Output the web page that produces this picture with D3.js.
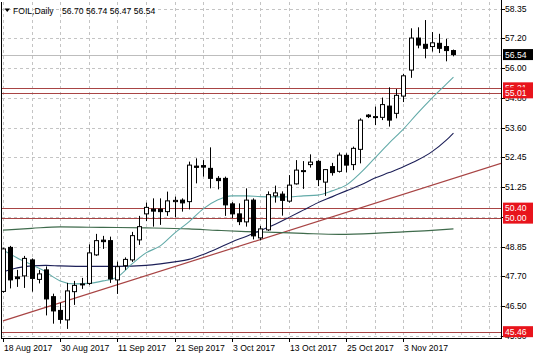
<!DOCTYPE html>
<html><head><meta charset="utf-8">
<script src="https://cdn.jsdelivr.net/npm/d3@7/dist/d3.min.js"></script>
<style>html,body{margin:0;padding:0;background:#fff;} svg{display:block;}</style>
</head><body>
<svg id="c" width="536" height="357"></svg>
<script>
// ---------- data ----------
const symbolName = "FOIL,Daily";
const headerOHLC = "56.70 56.74 56.47 56.54";
const opens  = [47.07,48.83,47.65,47.69,48.33,47.55,47.93,46.86,46.31,45.93,47.06,47.33,47.39,48.53,49.12,49.10,47.53,48.10,48.33,49.13,50.17,50.36,50.36,50.26,50.66,50.72,50.66,52.08,52.10,51.99,51.59,51.59,50.57,50.17,49.85,50.72,49.21,49.53,50.89,50.96,50.68,51.37,51.86,52.14,52.27,51.44,52.06,51.87,52.51,52.14,52.75,54.12,54.04,54.03,54.48,54.19,54.88,55.92,57.20,56.95,56.86,56.99,56.86,56.70];
const highs  = [48.82,48.89,47.93,48.49,48.39,47.93,48.07,46.98,46.61,47.41,47.49,47.61,48.95,49.37,49.29,49.26,48.26,48.43,49.45,50.09,50.62,50.79,50.79,51.06,50.86,50.79,52.26,52.39,52.32,52.83,51.68,51.66,50.64,50.59,51.19,50.79,49.69,51.07,51.30,51.07,51.72,52.32,52.28,52.55,52.32,51.96,52.21,52.62,52.59,52.86,53.99,54.16,54.46,54.82,55.23,55.16,55.77,57.59,57.63,57.92,57.44,57.37,57.17,56.74];
const lows   = [47.02,47.19,47.25,47.21,47.06,47.39,46.11,45.78,45.78,45.57,46.53,47.17,47.33,48.49,48.77,47.41,46.97,47.93,48.25,48.93,49.88,49.66,49.73,50.09,50.03,50.26,50.35,51.39,51.66,51.19,51.15,50.09,50.00,49.72,49.66,49.15,49.11,49.49,50.62,50.10,50.62,51.34,51.17,52.02,51.28,50.89,51.70,51.82,51.83,51.92,52.19,54.00,53.72,53.92,53.66,53.99,54.64,55.61,56.79,56.39,56.66,56.60,56.27,56.47];
const closes = [48.77,47.53,47.58,48.39,47.59,47.77,46.77,46.29,45.95,47.09,47.31,47.37,48.61,49.10,49.06,47.57,48.06,48.35,49.30,49.66,50.43,50.28,50.26,50.69,50.71,50.61,52.12,52.03,52.04,51.59,51.50,50.53,50.17,49.86,50.72,49.29,49.57,50.94,51.01,50.71,51.32,51.92,51.90,52.24,51.54,51.94,51.82,52.52,52.12,52.79,53.92,54.06,54.06,54.54,53.92,54.91,55.69,57.20,56.92,56.79,57.01,56.79,56.70,56.54];

const dateLabels = ["18 Aug 2017","30 Aug 2017","11 Sep 2017","21 Sep 2017","3 Oct 2017","13 Oct 2017","25 Oct 2017","3 Nov 2017"];
const dateLabelBars = [0,8,16,24,32,40,48,56];
const yTicks = [58.35,57.20,56.00,54.80,53.60,52.45,51.25,50.05,48.85,47.70,46.50,45.30];

const levels = [55.21,55.01,50.40,50.00,45.46];
const lastPrice = 56.54;

const trendBars = [0, 69.65];
const trendValues = [45.89, 52.19];

const maFastBars   = [0,2,4,6,7,8,10,12,14,16,18,20,22,24,26,28,30,32,34,36,38,40,42,44,46,48,50,52,54,56,58,60,62,63];
const maFastValues = [48.73,48.41,48.13,47.85,47.65,47.49,47.37,47.39,47.49,47.65,48.16,48.61,48.89,49.40,49.85,50.37,50.72,50.89,50.89,50.86,50.85,50.85,50.89,50.92,51.09,51.32,51.81,52.40,53.00,53.56,54.20,54.80,55.36,55.64];
const maMidBars    = [0,2,4,6,8,12,16,20,22,24,26,28,30,32,34,36,38,40,42,44,46,48,50,52,54,56,58,60,62,63];
const maMidValues  = [47.85,48.01,48.09,48.11,48.09,48.07,48.07,48.11,48.17,48.25,48.35,48.55,48.79,49.05,49.27,49.51,49.75,50.03,50.32,50.61,50.85,51.09,51.32,51.60,51.82,52.05,52.32,52.66,53.12,53.40];
const maSlowBars   = [0,4,8,14,20,26,30,34,38,42,47,52,56,60,63];
const maSlowValues = [49.52,49.59,49.65,49.63,49.61,49.57,49.51,49.46,49.43,49.39,49.35,49.39,49.45,49.51,49.57];

// ---------- layout ----------
const L = 2, T = 2, R = 501, B = 338;
const FONT = "'Liberation Sans', Arial, sans-serif";
const svg = d3.select("#c");
svg.append("rect").attr("width",536).attr("height",357).attr("fill","#fff");

const x = d3.scaleLinear().domain([0,63]).range([3,453.45]);
const y = d3.scaleLinear().domain([45.207,58.642]).range([B,T]);

svg.append("clipPath").attr("id","plot").append("rect")
  .attr("x",L).attr("y",T).attr("width",R-L).attr("height",B-T);
const g = svg.append("g").attr("clip-path","url(#plot)");

// grid
const gridBars = d3.range(0,70,4);
g.selectAll("line.vg").data(gridBars).join("line")
  .attr("x1",d=>Math.round(x(d))+0.5).attr("x2",d=>Math.round(x(d))+0.5)
  .attr("y1",T).attr("y2",B)
  .attr("stroke","#c4c4c4").attr("stroke-dasharray","3,3");
g.selectAll("line.hg").data(yTicks).join("line")
  .attr("x1",L).attr("x2",R)
  .attr("y1",d=>Math.round(y(d))+0.5).attr("y2",d=>Math.round(y(d))+0.5)
  .attr("stroke","#c4c4c4").attr("stroke-dasharray","3,3");

// bid line
g.append("line").attr("x1",L).attr("x2",R)
  .attr("y1",Math.round(y(lastPrice))+0.5).attr("y2",Math.round(y(lastPrice))+0.5)
  .attr("stroke","#bdbdbd");

// horizontal levels
const lvlColor = "#a84444";
g.selectAll("line.lvl").data(levels).join("line")
  .attr("x1",L).attr("x2",R)
  .attr("y1",d=>Math.round(y(d))+0.5).attr("y2",d=>Math.round(y(d))+0.5)
  .attr("stroke",lvlColor).attr("stroke-width",1.2);

// trend line
g.append("line")
  .attr("x1",x(trendBars[0])).attr("y1",y(trendValues[0]))
  .attr("x2",x(trendBars[1])).attr("y2",y(trendValues[1]))
  .attr("stroke",lvlColor).attr("stroke-width",1.2);

// moving averages
function maLine(bars, vals, color){
  const pts = bars.map((b,i)=>[x(b), y(vals[i])]);
  g.append("path").attr("d", d3.line().curve(d3.curveMonotoneX)(pts))
    .attr("fill","none").attr("stroke",color).attr("stroke-width",1.1);
}
maLine(maSlowBars, maSlowValues, "#3f6b4c");
maLine(maMidBars, maMidValues, "#1c1f58");
maLine(maFastBars, maFastValues, "#62aaa8");

// candles
const idx = d3.range(opens.length);
const bw = 5;
g.selectAll("line.wick").data(idx).join("line")
  .attr("x1",i=>Math.round(x(i))+0.5).attr("x2",i=>Math.round(x(i))+0.5)
  .attr("y1",i=>y(highs[i])).attr("y2",i=>y(lows[i]))
  .attr("stroke","#000");
g.selectAll("rect.body").data(idx).join("rect")
  .attr("x",i=>Math.round(x(i))-2+0.5)
  .attr("y",i=>y(Math.max(opens[i],closes[i])))
  .attr("width",bw-1)
  .attr("height",i=>Math.max(1, Math.abs(y(opens[i])-y(closes[i]))))
  .attr("fill",i=>closes[i]>=opens[i]?"#fff":"#000")
  .attr("stroke","#000");

// frame / axes
svg.append("line").attr("x1",L-0.5).attr("x2",L-0.5).attr("y1",T).attr("y2",B).attr("stroke","#000");
svg.append("line").attr("x1",R+0.5).attr("x2",R+0.5).attr("y1",0).attr("y2",B+1).attr("stroke","#000");
svg.append("line").attr("x1",L-1).attr("x2",R+1).attr("y1",B+0.5).attr("y2",B+0.5).attr("stroke","#000");

// y ticks + labels
svg.selectAll("line.yt").data(yTicks).join("line")
  .attr("x1",R).attr("x2",R+4)
  .attr("y1",d=>Math.round(y(d))+0.5).attr("y2",d=>Math.round(y(d))+0.5).attr("stroke","#000");
svg.selectAll("text.yl").data(yTicks).join("text")
  .attr("x",505).attr("y",d=>y(d)+3)
  .attr("font-family",FONT).attr("font-size","8.6px").attr("fill","#000")
  .text(d=>d.toFixed(2));

// x ticks + labels
svg.selectAll("line.xt").data(dateLabelBars).join("line")
  .attr("x1",b=>Math.round(x(b))+0.5).attr("x2",b=>Math.round(x(b))+0.5)
  .attr("y1",B).attr("y2",B+4).attr("stroke","#000");
svg.selectAll("text.xl").data(dateLabelBars).join("text")
  .attr("x",b=>Math.round(x(b))+1).attr("y",351)
  .attr("font-family",FONT).attr("font-size","8.6px").attr("fill","#000")
  .text((b,i)=>dateLabels[i]);

// level labels
function priceBox(v, fill){
  const cy = y(v);
  svg.append("rect").attr("x",503).attr("y",cy-5.5).attr("width",30).attr("height",11).attr("fill",fill);
  svg.append("text").attr("x",505).attr("y",cy+3)
    .attr("font-family",FONT).attr("font-size","8.6px").attr("fill","#fff").text(v.toFixed(2));
}
levels.forEach(v=>priceBox(v,"#e8141c"));
priceBox(lastPrice,"#000");

// header
svg.append("path").attr("d","M4.5,8.5 L10,8.5 L7.25,12 Z").attr("fill","#000");
svg.append("text").attr("x",13).attr("y",13.5)
  .attr("font-family",FONT).attr("font-size","8.6px").attr("fill","#000").text(symbolName);
svg.append("text").attr("x",62).attr("y",13.5)
  .attr("font-family",FONT).attr("font-size","8.6px").attr("fill","#000").text(headerOHLC);
</script>
</body></html>
